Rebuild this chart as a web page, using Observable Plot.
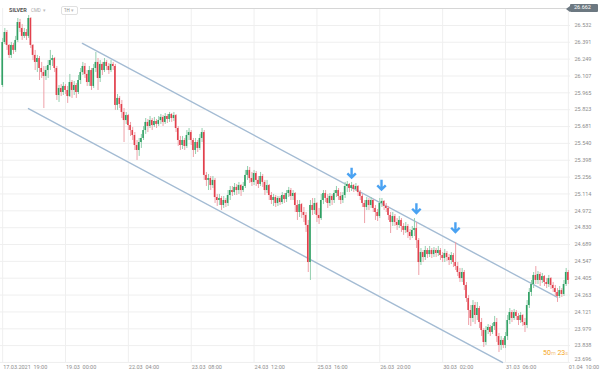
<!DOCTYPE html>
<html><head><meta charset="utf-8">
<script src="https://cdn.jsdelivr.net/npm/d3@7"></script>
<script src="https://cdn.jsdelivr.net/npm/@observablehq/plot@0.6"></script>
<style>
body{margin:0;background:#fff;font-family:Roboto,"Liberation Sans",sans-serif;}
#wrap{position:relative;width:602px;height:375px;overflow:hidden;}
#wrap svg{display:block;}
.ov{position:absolute;white-space:nowrap;line-height:1;}
</style></head>
<body><div id="wrap"></div>
<script>
const firstOpen = 26.027;
const close = [26.389,26.473,26.364,26.280,26.364,26.322,26.406,26.557,26.507,26.440,26.473,26.440,26.591,26.364,26.280,26.221,26.254,26.170,26.136,26.103,
26.153,26.195,26.237,26.254,26.170,25.943,26.002,25.968,26.019,25.985,25.934,26.052,25.985,26.027,25.968,26.069,26.136,26.187,26.120,26.052,
26.153,26.019,26.170,26.221,26.086,26.204,26.153,26.221,26.187,26.153,26.204,26.187,25.859,25.918,25.867,25.800,25.732,25.774,25.690,25.648,
25.606,25.522,25.480,25.547,25.581,25.648,25.716,25.682,25.732,25.690,25.724,25.699,25.732,25.758,25.716,25.766,25.741,25.783,25.749,25.774,
25.665,25.564,25.522,25.564,25.514,25.606,25.631,25.564,25.480,25.547,25.497,25.581,25.631,25.270,25.228,25.244,25.185,25.228,25.084,25.059,
25.076,25.017,25.059,25.034,25.101,25.143,25.126,25.169,25.143,25.185,25.143,25.177,25.270,25.312,25.244,25.211,25.286,25.228,25.194,25.261,
25.211,25.143,25.185,25.101,25.059,25.084,25.034,25.076,25.042,25.101,25.067,25.118,25.143,25.093,25.118,25.017,24.958,25.025,24.958,24.933,
24.849,24.537,25.017,24.975,25.034,24.933,24.907,25.059,25.118,25.076,25.034,25.093,25.059,25.118,25.143,25.093,25.059,25.101,25.177,25.194,
25.160,25.185,25.152,25.177,25.126,25.093,25.034,25.000,25.059,25.017,25.059,24.992,24.958,24.924,25.034,25.051,25.009,24.992,24.933,24.874,
24.924,24.874,24.849,24.891,24.840,24.807,24.840,24.790,24.756,24.807,24.823,24.722,24.537,24.621,24.579,24.638,24.604,24.638,24.604,24.638,
24.613,24.638,24.596,24.571,24.613,24.579,24.554,24.596,24.537,24.503,24.453,24.402,24.453,24.344,24.234,24.133,24.066,24.175,24.091,24.150,
24.032,23.965,23.864,23.965,23.990,23.948,23.998,24.032,23.914,23.839,23.881,23.839,23.914,24.049,24.116,24.066,24.116,24.083,24.049,24.091,
24.032,24.007,24.175,24.285,24.352,24.428,24.386,24.436,24.386,24.419,24.369,24.352,24.402,24.344,24.318,24.285,24.251,24.301,24.268,24.352,
24.453,24.386];
const high = [26.423,26.507,26.490,26.372,26.389,26.381,26.440,26.591,26.583,26.540,26.507,26.498,26.616,26.599,26.372,26.322,26.280,26.271,26.221,26.187,
26.187,26.237,26.322,26.280,26.263,26.187,26.027,26.035,26.052,26.035,26.019,26.120,26.069,26.061,26.044,26.111,26.170,26.221,26.212,26.153,
26.187,26.170,26.204,26.305,26.254,26.237,26.221,26.254,26.237,26.212,26.237,26.221,26.204,25.951,25.934,25.901,25.833,25.800,25.783,25.716,
25.673,25.631,25.564,25.581,25.615,25.682,25.749,25.741,25.766,25.749,25.758,25.741,25.766,25.783,25.774,25.791,25.783,25.800,25.791,25.800,
25.783,25.682,25.598,25.598,25.581,25.648,25.665,25.648,25.581,25.581,25.564,25.615,25.665,25.648,25.295,25.278,25.261,25.261,25.244,25.110,
25.110,25.093,25.093,25.076,25.143,25.177,25.177,25.202,25.194,25.211,25.194,25.211,25.312,25.345,25.337,25.295,25.312,25.303,25.261,25.295,
25.278,25.228,25.228,25.194,25.126,25.110,25.101,25.093,25.093,25.126,25.118,25.143,25.169,25.160,25.143,25.126,25.059,25.059,25.034,25.000,
24.958,24.891,25.059,25.076,25.076,25.042,24.992,25.110,25.143,25.143,25.110,25.118,25.110,25.143,25.177,25.160,25.126,25.126,25.211,25.219,
25.202,25.211,25.194,25.202,25.185,25.143,25.110,25.059,25.084,25.076,25.084,25.067,25.017,24.983,25.076,25.076,25.059,25.034,25.009,24.958,
24.958,24.941,24.907,24.924,24.907,24.865,24.874,24.857,24.815,24.840,24.907,24.874,24.739,24.655,24.638,24.672,24.655,24.672,24.655,24.663,
24.655,24.672,24.655,24.621,24.647,24.630,24.604,24.621,24.613,24.706,24.537,24.487,24.487,24.470,24.369,24.259,24.175,24.217,24.201,24.201,
24.167,24.066,23.982,23.998,24.015,24.007,24.024,24.083,24.066,23.940,23.914,23.898,23.948,24.091,24.150,24.133,24.142,24.133,24.108,24.116,
24.099,24.066,24.217,24.318,24.386,24.453,24.503,24.461,24.453,24.445,24.428,24.402,24.428,24.411,24.369,24.344,24.318,24.335,24.318,24.386,
24.487,24.470];
const low = [26.010,26.372,26.322,26.254,26.254,26.288,26.305,26.389,26.473,26.406,26.423,26.406,26.423,26.338,26.237,26.153,26.136,26.069,26.086,25.833,
26.069,26.086,26.153,26.187,26.136,25.901,25.884,25.934,25.943,25.951,25.876,25.926,25.918,25.943,25.918,25.951,26.035,26.111,26.086,26.019,
26.019,25.985,26.002,26.136,25.985,26.052,26.111,26.136,26.153,26.120,26.136,26.153,25.817,25.817,25.833,25.749,25.547,25.699,25.648,25.598,
25.564,25.480,25.396,25.430,25.497,25.564,25.615,25.631,25.665,25.648,25.673,25.665,25.682,25.699,25.682,25.699,25.707,25.716,25.716,25.724,
25.631,25.514,25.480,25.488,25.480,25.497,25.564,25.522,25.421,25.446,25.463,25.480,25.547,25.228,25.177,25.143,25.143,25.160,25.034,25.009,
25.017,24.975,24.992,25.000,25.009,25.059,25.093,25.101,25.101,25.110,25.093,25.126,25.160,25.228,25.202,25.177,25.185,25.177,25.160,25.177,
25.169,25.101,25.118,25.059,25.025,25.009,25.000,25.009,25.017,25.025,25.034,25.042,25.084,25.059,25.059,24.958,24.891,24.916,24.907,24.874,
24.790,24.453,24.386,24.933,24.941,24.874,24.857,24.891,25.025,25.042,24.992,25.009,25.017,25.034,25.084,25.059,25.025,25.034,25.076,25.126,
25.126,25.135,25.126,25.135,25.093,25.059,25.000,24.865,24.975,24.975,24.992,24.958,24.891,24.882,24.907,25.000,24.975,24.958,24.891,24.781,
24.840,24.840,24.807,24.823,24.790,24.765,24.781,24.739,24.722,24.739,24.756,24.655,24.428,24.512,24.537,24.554,24.571,24.579,24.571,24.579,
24.579,24.588,24.554,24.537,24.537,24.546,24.512,24.520,24.495,24.470,24.419,24.369,24.369,24.301,24.201,24.007,23.998,24.032,24.015,24.049,
23.982,23.914,23.822,23.839,23.931,23.914,23.931,23.965,23.864,23.780,23.797,23.813,23.813,23.881,24.015,24.032,24.049,24.049,24.007,24.024,
23.998,23.948,23.982,24.150,24.251,24.318,24.352,24.352,24.335,24.360,24.335,24.318,24.327,24.310,24.285,24.251,24.201,24.234,24.243,24.251,
24.335,24.352];

const yTicks = [26.532,26.391,26.249,26.107,25.965,25.823,25.681,25.540,25.398,25.256,25.114,24.972,24.830,24.689,24.547,24.405,24.263,24.121,23.979,23.838,23.696];
const xTickIndex = [0,29,58,87,116,145,174,203,232,261];
const xTickLabels = ["17.03.2021\u00a0\u00a019:00","19.03\u00a0\u00a000:00","22.03\u00a0\u00a004:00","23.03\u00a0\u00a008:00","24.03\u00a0\u00a012:00","25.03\u00a0\u00a016:00","26.03\u00a0\u00a020:00","30.03\u00a0\u00a002:00","31.03\u00a0\u00a006:00","01.04\u00a0\u00a010:00"];

const channelUpper = [{i:36.8, p:26.381},{i:256.0, p:24.243}];
const channelLower = [{i:11.9, p:25.833},{i:230.6, p:23.696}];
const arrows = [{i:161, p:25.290},{i:174.8, p:25.189},{i:190.9, p:24.992},{i:208.9, p:24.832}];

const UP = "#2e9f62", DOWN = "#e2404c", UPW = "#93cfae", DOWNW = "#eea0a8";

const candles = close.map((c, i) => {
  const o = i === 0 ? firstOpen : close[i - 1];
  return {i, open: o, close: c, high: Math.max(high[i], o, c), low: Math.min(low[i], o, c), up: c >= o};
});

const arrowSymbol = {
  draw(ctx, size) {
    const s = Math.sqrt(size / Math.PI);
    ctx.moveTo(0, -s); ctx.lineTo(0, s * 0.85);
    ctx.moveTo(-s * 0.8, s * 0.05); ctx.lineTo(0, s * 0.85); ctx.lineTo(s * 0.8, s * 0.05);
  }
};

const labelMap = new Map(xTickIndex.map((d, k) => [d, xTickLabels[k]]));
const yMain = yTicks.slice(0, -1), yLast = yTicks.slice(-1);

const chart = Plot.plot({
  width: 602, height: 375,
  marginLeft: 0, marginRight: 32, marginTop: 8, marginBottom: 13,
  x: {domain: [-1, 262], axis: null, label: null},
  y: {domain: [23.6955, 26.675], axis: null, label: null},
  color: {type: "identity"},
  style: {fontFamily: "Roboto, sans-serif", fontSize: "5.5px", background: "white", overflow: "visible"},
  marks: [
    Plot.gridY(yTicks, {stroke: "#efefef", strokeOpacity: 1}),
    Plot.gridX(xTickIndex, {stroke: "#efefef", strokeOpacity: 1}),
    Plot.axisY(yMain, {anchor: "right", label: null, tickSize: 0, tickPadding: 4, tickFormat: d => d.toFixed(3), fill: "#8d8d8d", fontSize: 5.5}),
    Plot.axisY(yLast, {anchor: "right", label: null, tickSize: 0, tickPadding: 4, dy: -3, tickFormat: d => d.toFixed(3), fill: "#8d8d8d", fontSize: 5.5}),
    Plot.axisX(xTickIndex, {anchor: "bottom", label: null, tickSize: 0, tickPadding: 3, tickFormat: d => labelMap.get(d), textAnchor: "start", dx: 0.5, fill: "#8d8d8d", fontSize: 5.5}),
    Plot.line(channelUpper, {x: "i", y: "p", stroke: "#a3bbd3", strokeWidth: 1.4}),
    Plot.line(channelLower, {x: "i", y: "p", stroke: "#a3bbd3", strokeWidth: 1.4}),
    Plot.ruleX(candles, {x: "i", y1: "low", y2: "high", stroke: d => d.up ? UPW : DOWNW, strokeWidth: 1}),
    Plot.rect(candles, {x1: d => d.i - 0.36, x2: d => d.i + 0.36, y1: "open", y2: "close", fill: d => d.up ? UP : DOWN}),
    Plot.dot(arrows, {x: "i", y: "p", symbol: arrowSymbol, r: 5.3, fill: "none", stroke: "#4aa2f2", strokeWidth: 2.4})
  ]
});

const wrap = document.getElementById("wrap");
wrap.appendChild(chart);
wrap.insertAdjacentHTML("beforeend", `
<div class="ov" style="left:80px;top:8px;width:488px;height:1px;background:#d6d6d6"></div>
<div class="ov" style="left:9px;top:8px;font-size:5.5px;font-weight:bold;color:#555">SILVER</div>
<div class="ov" style="left:31px;top:8.5px;font-size:4.5px;color:#aaa">CMD</div>
<div class="ov" style="left:43px;top:8px;font-size:5px;color:#bbb">▾</div>
<div class="ov" style="left:61px;top:6px;width:15px;height:7px;border:1px solid #e0e0e0;border-radius:2px;background:#fff"></div>
<div class="ov" style="left:64px;top:8.5px;font-size:4.5px;color:#888">1H</div>
<div class="ov" style="left:71px;top:8px;font-size:5px;color:#bbb">▾</div>
<div class="ov" style="left:570px;top:4px;width:28px;height:8px;background:#6c7881;border-radius:1px"><div style="font-size:5.5px;color:#fff;padding:1px 0 0 4px">26.662</div></div>
<div class="ov" style="left:566px;top:6px;width:0;height:0;border-top:3px solid transparent;border-bottom:3px solid transparent;border-right:4px solid #6c7881"></div>
<div class="ov" style="left:543px;top:350px;font-size:7px;color:#f5a623">50<span style="color:#f2c98a;font-size:5.5px">m</span> 23<span style="color:#f2c98a;font-size:5.5px">s</span></div>
`);
</script>
</body></html>
